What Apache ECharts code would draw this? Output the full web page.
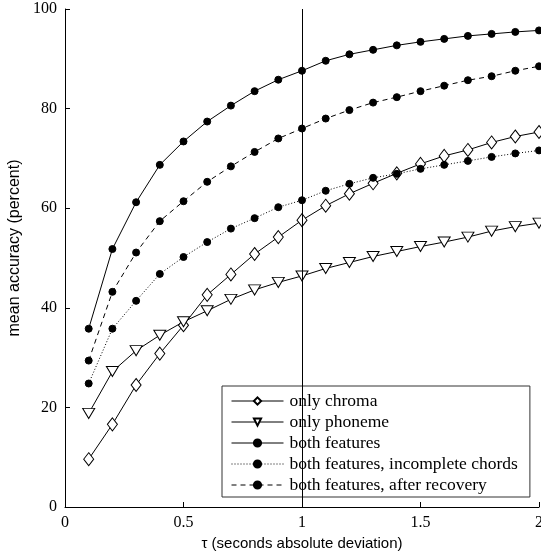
<!DOCTYPE html>
<html>
<head>
<meta charset="utf-8">
<script src="https://cdn.jsdelivr.net/npm/echarts@6/dist/echarts.min.js"></script>
<style>
  html, body { margin: 0; padding: 0; background: #fff; }
  #chart { width: 541px; height: 554px; }
</style>
</head>
<body>
<div id="chart"></div>
<script>
// tau values (seconds)
var tau = [0.1, 0.2, 0.3, 0.4, 0.5, 0.6, 0.7, 0.8, 0.9, 1.0,
           1.1, 1.2, 1.3, 1.4, 1.5, 1.6, 1.7, 1.8, 1.9, 2.0];

var onlyChroma = [9.6, 16.6, 24.5, 30.8, 36.5, 42.6, 46.7, 50.8, 54.2, 57.6,
                  60.5, 62.9, 65.0, 67.0, 68.9, 70.5, 71.7, 73.2, 74.4, 75.3];
var onlyPhoneme = [18.8, 27.2, 31.4, 34.5, 37.2, 39.4, 41.7, 43.6, 45.1, 46.4,
                   47.9, 49.1, 50.3, 51.3, 52.3, 53.2, 54.2, 55.4, 56.3, 57.0];
var bothFeatures = [35.8, 51.8, 61.2, 68.7, 73.4, 77.4, 80.6, 83.5, 85.8, 87.6,
                    89.6, 90.9, 91.8, 92.7, 93.4, 94.0, 94.6, 95.0, 95.4, 95.7];
var bothIncomplete = [24.8, 35.8, 41.4, 46.8, 50.2, 53.2, 55.9, 58.0, 60.2, 61.6,
                      63.5, 64.9, 66.1, 66.9, 67.9, 68.7, 69.5, 70.3, 71.0, 71.6];
var bothRecovery = [29.4, 43.2, 51.1, 57.4, 61.4, 65.3, 68.4, 71.3, 74.0, 76.0,
                    78.0, 79.7, 81.2, 82.3, 83.5, 84.6, 85.7, 86.5, 87.6, 88.5];

var seriesNames = ['only chroma', 'only phoneme', 'both features',
                   'both features, incomplete chords', 'both features, after recovery'];

function pairs(ys) {
  var out = [];
  for (var i = 0; i < tau.length; i++) out.push([tau[i], ys[i]]);
  return out;
}

var serif = '"Liberation Serif", "DejaVu Serif", serif';
var sans = '"Liberation Sans", Arial, sans-serif';

var myChart = echarts.init(document.getElementById('chart'));

function lineSeries(name, ys, symbol, size, fill, lineType) {
  return {
    name: name,
    type: 'line',
    data: pairs(ys),
    symbol: symbol,
    symbolSize: size,
    showAllSymbol: true,
    clip: false,
    lineStyle: { color: '#000', width: 1, type: lineType },
    itemStyle: { color: fill, borderColor: '#000', borderWidth: 1 },
    emphasis: { disabled: true },
    z: 3
  };
}

var series = [
  lineSeries(seriesNames[0], onlyChroma, 'diamond', [10, 13], '#fff', 'solid'),
  lineSeries(seriesNames[1], onlyPhoneme, 'path://M0,0 L12,0 L6,10 Z', [12, 10], '#fff', 'solid'),
  lineSeries(seriesNames[2], bothFeatures, 'circle', 7, '#000', 'solid'),
  lineSeries(seriesNames[3], bothIncomplete, 'circle', 7, '#000', [1, 2]),
  lineSeries(seriesNames[4], bothRecovery, 'circle', 7, '#000', [5, 4])
];

// vertical reference line at tau = 1
series[2].markLine = {
  silent: true,
  symbol: 'none',
  label: { show: false },
  lineStyle: { color: '#000', width: 1, type: 'solid' },
  data: [{ xAxis: 1 }]
};

var option = {
  backgroundColor: '#fff',
  animation: false,
  grid: { left: 65, right: 2, top: 9, bottom: 47, outerBoundsMode: 'none' },
  legend: {
    data: seriesNames,
    orient: 'vertical',
    left: 222,
    top: 386,
    padding: [6, 12, 3, 9],
    itemGap: 3,
    itemWidth: 52,
    itemHeight: 9,
    backgroundColor: '#fff',
    borderColor: '#333',
    borderWidth: 1,
    borderRadius: 0,
    lineStyle: { width: 1 },
    textStyle: { fontFamily: serif, fontSize: 17.5, color: '#000', padding: [0, 0, 0, 1] }
  },
  xAxis: {
    type: 'value',
    min: 0,
    max: 2,
    interval: 0.5,
    name: 'τ (seconds absolute deviation)',
    nameLocation: 'middle',
    nameGap: 27,
    nameTextStyle: { fontFamily: sans, fontSize: 15, color: '#000' },
    axisLine: { lineStyle: { color: '#000', width: 1 } },
    axisTick: { inside: true, length: 5, lineStyle: { color: '#000' } },
    axisLabel: { fontFamily: serif, fontSize: 16, color: '#000', margin: 8 },
    splitLine: { show: false }
  },
  yAxis: {
    type: 'value',
    min: 0,
    max: 100,
    interval: 20,
    name: 'mean accuracy (percent)',
    nameLocation: 'middle',
    nameGap: 34,
    nameTextStyle: { fontFamily: sans, fontSize: 16, color: '#000', padding: [0, 0, 0, 20] },
    axisLine: { show: true, lineStyle: { color: '#000', width: 1 } },
    axisTick: { show: true, inside: true, length: 5, lineStyle: { color: '#000' } },
    axisLabel: { fontFamily: serif, fontSize: 16, color: '#000', margin: 8 },
    splitLine: { show: false }
  },
  series: series
};

myChart.setOption(option);
</script>
</body>
</html>
